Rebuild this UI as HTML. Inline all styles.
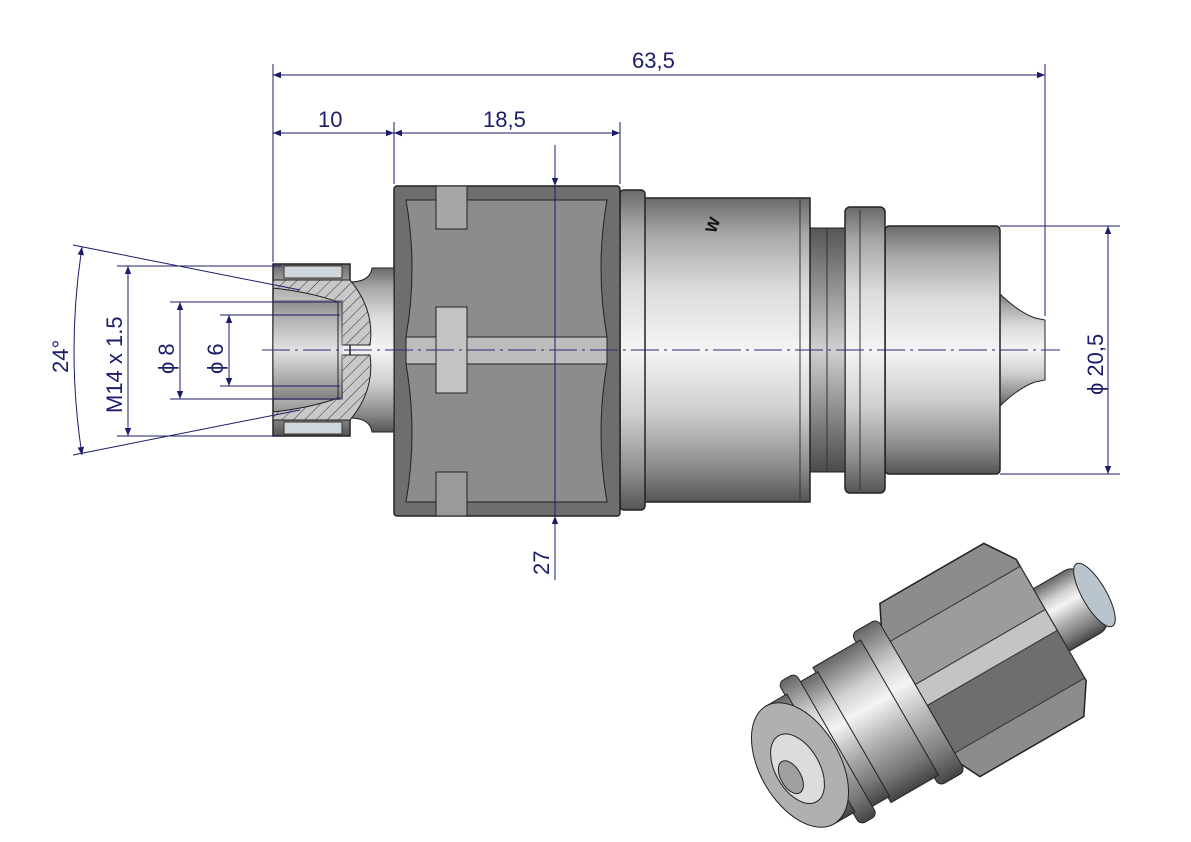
<!DOCTYPE html>
<html><head><meta charset="utf-8"><style>
html,body{margin:0;padding:0;background:#fff;}
svg{display:block;}
text{font-family:"Liberation Sans",sans-serif;fill:#1c1c6a;font-size:22px;}
</style></head><body>
<svg width="1191" height="842" viewBox="0 0 1191 842" xmlns="http://www.w3.org/2000/svg">
<defs>
<linearGradient id="cyl" x1="0" y1="0" x2="0" y2="1">
<stop offset="0" stop-color="#6a6a6a"/><stop offset="0.12" stop-color="#a8a8a8"/><stop offset="0.3" stop-color="#dcdcdc"/><stop offset="0.5" stop-color="#f4f4f4"/><stop offset="0.7" stop-color="#cfcfcf"/><stop offset="0.88" stop-color="#8e8e8e"/><stop offset="1" stop-color="#555"/>
</linearGradient>
<linearGradient id="cylD" x1="0" y1="0" x2="0" y2="1">
<stop offset="0" stop-color="#555"/><stop offset="0.3" stop-color="#a0a0a0"/><stop offset="0.5" stop-color="#d0d0d0"/><stop offset="0.7" stop-color="#9a9a9a"/><stop offset="1" stop-color="#4a4a4a"/>
</linearGradient>
<linearGradient id="iso" x1="0" y1="0" x2="0" y2="1">
<stop offset="0" stop-color="#666"/><stop offset="0.25" stop-color="#d0d0d0"/><stop offset="0.4" stop-color="#f4f4f4"/><stop offset="0.6" stop-color="#b8b8b8"/><stop offset="0.85" stop-color="#777"/><stop offset="1" stop-color="#444"/>
</linearGradient>
<pattern id="hatch" width="8" height="8" patternUnits="userSpaceOnUse" patternTransform="rotate(45)">
<rect width="8" height="8" fill="#c8c8c8"/><line x1="0" y1="0" x2="0" y2="8" stroke="#333" stroke-width="1"/>
</pattern>
<marker id="ar" viewBox="0 0 10 10" refX="10" refY="5" markerWidth="14" markerHeight="8" orient="auto-start-reverse" markerUnits="userSpaceOnUse">
<path d="M0,1 L10,5 L0,9 Z" fill="#1c1c6a"/>
</marker>
</defs>

<!-- nose -->
<path d="M998,292 Q1018,312 1035,318 L1045,320 L1045,380 L1035,382 Q1018,388 998,408 Z" fill="url(#cyl)" stroke="#222"/>
<!-- front body -->
<rect x="885" y="226" width="115" height="248" rx="4" fill="url(#cyl)" stroke="#222" stroke-width="1.5"/>
<!-- flange -->
<rect x="845" y="207" width="40" height="286" rx="5" fill="url(#cyl)" stroke="#222" stroke-width="1.5"/>
<line x1="860" y1="210" x2="860" y2="490" stroke="#333"/>
<!-- groove -->
<rect x="810" y="228" width="35" height="244" fill="url(#cylD)" stroke="#222"/>
<line x1="827" y1="228" x2="827" y2="472" stroke="#333"/>
<!-- main body -->
<rect x="643" y="198" width="167" height="304" fill="url(#cyl)" stroke="#222" stroke-width="1.5"/>
<line x1="800" y1="198" x2="800" y2="502" stroke="#333"/>
<text x="700" y="228" transform="rotate(-70 712 220)" style="font-size:16px;font-weight:bold;fill:#111">W</text>
<!-- collar -->
<rect x="620" y="190" width="25" height="320" rx="4" fill="url(#cyl)" stroke="#222" stroke-width="1.5"/>
<!-- hex nut -->
<rect x="394" y="186" width="226" height="330" rx="3" fill="#6e6e6e" stroke="#222" stroke-width="1.5"/>
<path d="M406,200 L607,200 Q595,268 607,337 L406,337 Q418,268 406,200 Z" fill="#8c8c8c" stroke="#222"/>
<path d="M406,364 L607,364 Q595,433 607,502 L406,502 Q418,433 406,364 Z" fill="#8c8c8c" stroke="#222"/>
<rect x="406" y="337" width="201" height="27" fill="#bcbcbc" stroke="#222"/>
<rect x="436" y="186" width="31" height="43" fill="#a6a6a6" stroke="#222"/>
<rect x="436" y="307" width="31" height="86" fill="#c4c4c4" stroke="#222"/>
<rect x="436" y="472" width="31" height="44" fill="#9a9a9a" stroke="#222"/>
<!-- neck -->
<path d="M350,282 Q370,282 372,268 L394,268 L394,432 L372,432 Q370,418 350,418 Z" fill="url(#cyl)" stroke="#222"/>
<!-- left fitting -->
<rect x="273" y="264" width="77" height="172" fill="url(#cyl)" stroke="#222" stroke-width="1.5"/>
<rect x="284" y="266" width="58" height="12" fill="#cfd6dc" stroke="#333"/>
<rect x="284" y="422" width="58" height="12" fill="#cfd6dc" stroke="#333"/>
<path d="M273,280 L350,280 Q375,310 370,345 L342,345 L342,302 L338,302 Q310,292 273,288 Z" fill="url(#hatch)" stroke="#222"/>
<path d="M273,420 L350,420 Q375,390 370,355 L342,355 L342,398 L338,398 Q310,408 273,412 Z" fill="url(#hatch)" stroke="#222"/>
<rect x="273" y="300" width="70" height="100" fill="url(#cylD)" opacity="0.5"/>
<line x1="338" y1="302" x2="338" y2="398" stroke="#222"/>

<!-- centerline -->
<line x1="262" y1="350" x2="1060" y2="350" stroke="#2a2a7a" stroke-width="1" stroke-dasharray="28,5,3,5"/>

<!-- dimension lines -->
<g stroke="#1c1c6a" stroke-width="1" fill="none">
<line x1="273" y1="64" x2="273" y2="262"/>
<line x1="1045" y1="64" x2="1045" y2="316"/>
<line x1="273" y1="75" x2="1045" y2="75" marker-start="url(#ar)" marker-end="url(#ar)"/>
<line x1="394" y1="122" x2="394" y2="184"/>
<line x1="620" y1="122" x2="620" y2="184"/>
<line x1="273" y1="133" x2="394" y2="133" marker-start="url(#ar)" marker-end="url(#ar)"/>
<line x1="394" y1="133" x2="620" y2="133" marker-start="url(#ar)" marker-end="url(#ar)"/>
<line x1="555" y1="145" x2="555" y2="186" marker-end="url(#ar)"/>
<line x1="555" y1="186" x2="555" y2="516"/>
<line x1="555" y1="580" x2="555" y2="516" marker-end="url(#ar)"/>
<line x1="1000" y1="226" x2="1120" y2="226"/>
<line x1="1000" y1="474" x2="1120" y2="474"/>
<line x1="1108" y1="226" x2="1108" y2="474" marker-start="url(#ar)" marker-end="url(#ar)"/>
<line x1="117" y1="266" x2="282" y2="266"/>
<line x1="117" y1="436" x2="282" y2="436"/>
<line x1="128" y1="266" x2="128" y2="436" marker-start="url(#ar)" marker-end="url(#ar)"/>
<line x1="170" y1="302" x2="340" y2="302"/>
<line x1="170" y1="399" x2="340" y2="399"/>
<line x1="180" y1="302" x2="180" y2="399" marker-start="url(#ar)" marker-end="url(#ar)"/>
<line x1="220" y1="315" x2="340" y2="315"/>
<line x1="220" y1="386" x2="340" y2="386"/>
<line x1="229" y1="315" x2="229" y2="386" marker-start="url(#ar)" marker-end="url(#ar)"/>
<line x1="73" y1="245" x2="300" y2="290"/>
<line x1="73" y1="455" x2="300" y2="410"/>
<path d="M82,247 Q66,351 82,455" marker-start="url(#ar)" marker-end="url(#ar)"/>
</g>
<text x="632" y="68">63,5</text>
<text x="318" y="127">10</text>
<text x="483" y="127">18,5</text>
<text transform="translate(549 575) rotate(-90)">27</text>
<text transform="translate(1103 395) rotate(-90)">ϕ 20,5</text>
<text transform="translate(122 413) rotate(-90)">M14 x 1.5</text>
<text transform="translate(174 374) rotate(-90)">ϕ 8</text>
<text transform="translate(223 374) rotate(-90)">ϕ 6</text>
<text transform="translate(68 373) rotate(-90)">24°</text>

<!-- isometric view -->
<g transform="translate(800 765) rotate(-30)">
<rect x="230" y="-36" width="110" height="72" rx="14" fill="url(#iso)" stroke="#222"/>
<ellipse cx="340" cy="0" rx="12" ry="36" fill="#b9c4cc" stroke="#222"/>
<path d="M150,-100 L270,-100 L290,-70 L290,70 L270,100 L150,100 L135,70 L135,-70 Z" fill="#8c8c8c" stroke="#222" stroke-width="1.5"/>
<rect x="140" y="-62" width="150" height="50" fill="#9c9c9c" stroke="#333"/>
<rect x="140" y="12" width="150" height="55" fill="#6e6e6e" stroke="#333"/>
<rect x="140" y="-12" width="150" height="24" fill="#c4c4c4" stroke="#333"/>
<rect x="110" y="-88" width="30" height="176" rx="6" fill="url(#iso)" stroke="#222"/>
<rect x="60" y="-78" width="55" height="156" fill="url(#iso)" stroke="#222"/>
<rect x="40" y="-72" width="22" height="144" fill="url(#iso)" stroke="#222"/>
<rect x="22" y="-82" width="20" height="164" rx="6" fill="url(#iso)" stroke="#222"/>
<rect x="0" y="-68" width="24" height="136" fill="url(#iso)" stroke="#222"/>
<ellipse cx="0" cy="0" rx="40" ry="68" fill="#b0b0b0" stroke="#222"/>
<ellipse cx="-4" cy="2" rx="22" ry="38" fill="#dcdcdc" stroke="#222"/>
<ellipse cx="-14" cy="6" rx="10" ry="18" fill="#a0a0a0" stroke="#222"/>
</g>
</svg>
</body></html>
